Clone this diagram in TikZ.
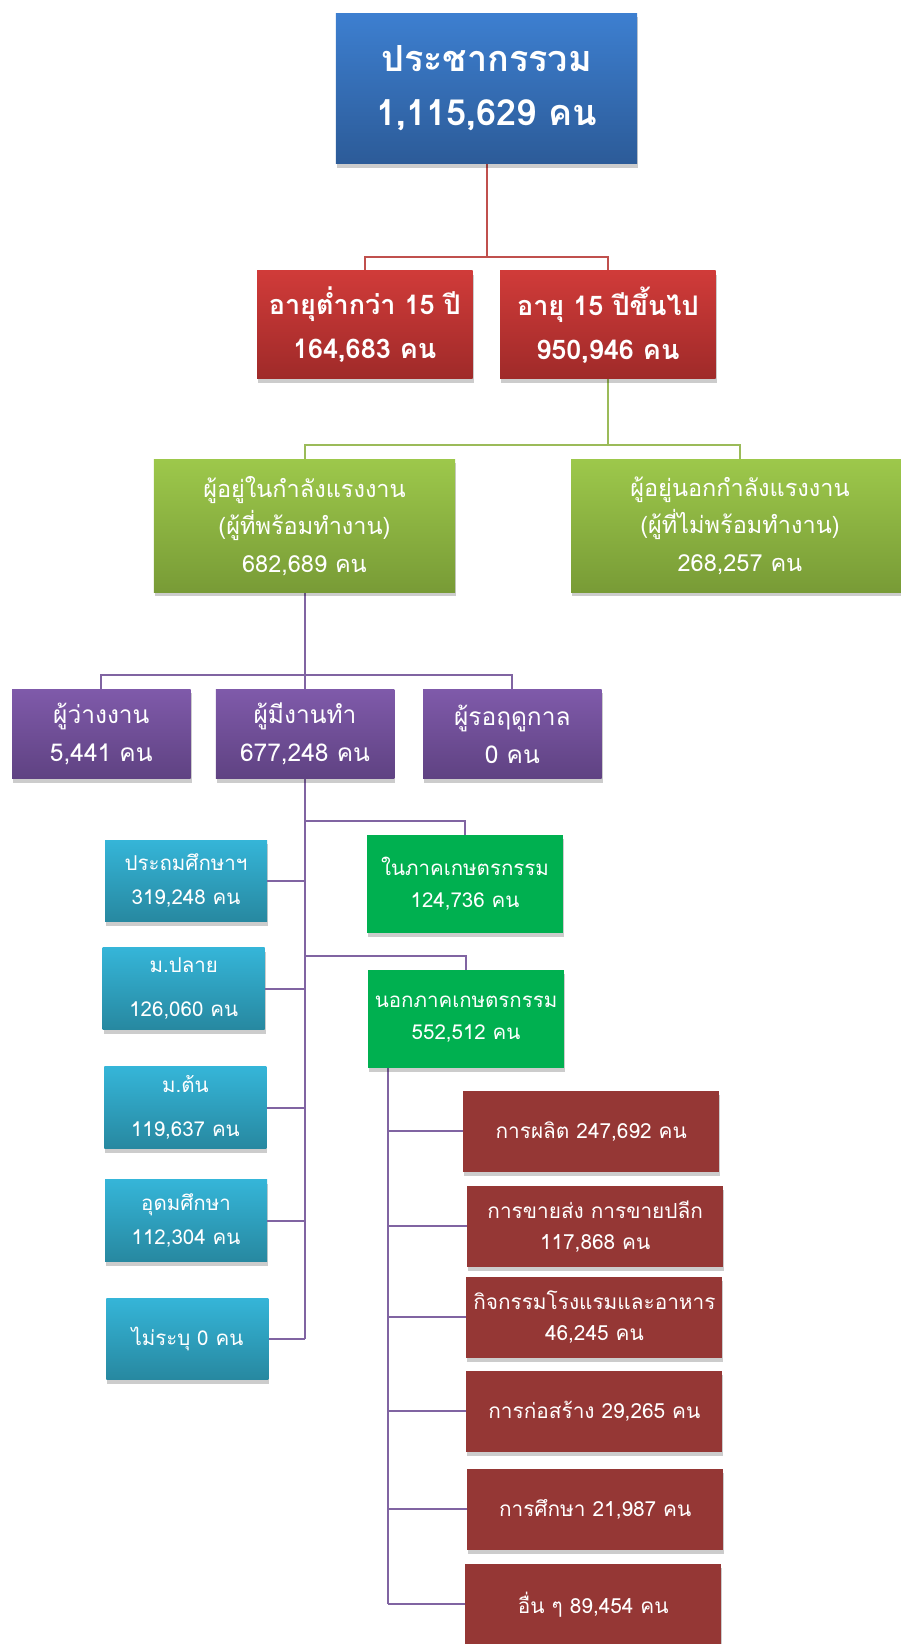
\documentclass[tikz,border=0pt]{standalone}
\usepackage{fontspec}
\newfontfamily\thaifont[Script=Thai]{Loma}
\usetikzlibrary{shadows}
\definecolor{blueT}{HTML}{3D7FD0}
\definecolor{blueB}{HTML}{2C5B98}
\definecolor{redT}{HTML}{D03B39}
\definecolor{redB}{HTML}{9F2A29}
\definecolor{grnT}{HTML}{9DC84B}
\definecolor{grnB}{HTML}{789B36}
\definecolor{purT}{HTML}{7F5AAA}
\definecolor{purB}{HTML}{5F4282}
\definecolor{tealT}{HTML}{35B5D8}
\definecolor{tealB}{HTML}{2788A0}
\definecolor{agri}{HTML}{00B050}
\definecolor{ind}{HTML}{953735}
\definecolor{lineR}{HTML}{C0504D}
\definecolor{lineG}{HTML}{9BBB59}
\definecolor{lineP}{HTML}{8064A2}
\begin{document}
\begin{tikzpicture}[x=1pt,y=-1pt,
  box/.style={rectangle, inner sep=0pt, align=center, text=white,
    drop shadow={shadow xshift=1pt, shadow yshift=-4pt, opacity=0.2, fill=black}},
  topbox/.style={box, top color=blueT, bottom color=blueB, minimum width=301.3pt, minimum height=150.4pt,
    font=\thaifont\bfseries\fontsize{36}{54}\selectfont},
  agebox/.style={box, top color=redT, bottom color=redB, minimum width=215.5pt, minimum height=108pt,
    font=\thaifont\bfseries\fontsize{27}{44}\selectfont},
  lfbox/.style={box, top color=grnT, bottom color=grnB, minimum width=301.4pt, minimum height=133.2pt,
    font=\thaifont\fontsize{23.5}{37.5}\selectfont},
  stbox/.style={box, top color=purT, bottom color=purB, minimum width=178.5pt, minimum height=89.5pt,
    font=\thaifont\fontsize{24.5}{38}\selectfont},
  edbox/.style={box, top color=tealT, bottom color=tealB, minimum width=162pt, minimum height=81.7pt,
    font=\thaifont\fontsize{20.5}{34}\selectfont},
  secbox/.style={box, fill=agri, minimum width=196.3pt, minimum height=97.5pt,
    font=\thaifont\fontsize{20.5}{32}\selectfont},
  indbox/.style={box, fill=ind, minimum width=256pt, minimum height=80.7pt,
    font=\thaifont\fontsize{20.8}{31}\selectfont},
  conR/.style={draw=lineR, line width=2pt},
  conG/.style={draw=lineG, line width=2pt},
  conP/.style={draw=lineP, line width=2pt}
]
\useasboundingbox (0,0) rectangle (900,1644);

% junction coordinates
\coordinate (j1) at (486.5,257);
\coordinate (j2) at (607.9,445.4);
\coordinate (j3) at (304.8,675.4);
\coordinate (jb1) at (304.8,820.8);
\coordinate (jb2) at (304.8,956.3);
\coordinate (k0) at (388,1067.6);

% connectors (drawn first, behind boxes)
\draw[conR] (486.5,163.8) -- (j1);
\draw[conR] (364.8,270.9) |- (j1) -| (607.9,270.9);
\draw[conG] (607.9,378.8) -- (j2);
\draw[conG] (304.5,459.2) |- (j2) -| (740,459.2);
\draw[conP] (304.8,592.4) -- (304.8,1339);
\draw[conP] (101.3,689.2) |- (j3) -| (512.3,689.2);
\draw[conP] (jb1) -| (465,835);
\draw[conP] (jb2) -| (466.1,970);
\draw[conP] (k0) -- (388,1604.4);

% nodes
\node[topbox] (top) at (486.5,88.6) {ประชากรรวม\\1,115,629 คน};
\node[agebox] (r1) at (364.8,324.9) {อายุต่ำกว่า 15 ปี\\164,683 คน};
\node[agebox] (r2) at (607.9,324.9) {อายุ 15 ปีขึ้นไป\\950,946 คน};
\node[lfbox] (g1) at (304.5,525.8) {ผู้อยู่ในกำลังแรงงาน\\(ผู้ที่พร้อมทำงาน)\\682,689 คน};
\node[lfbox, minimum width=338pt] (g2) at (740,525.8) {ผู้อยู่นอกกำลังแรงงาน\\(ผู้ที่ไม่พร้อมทำงาน)\\268,257 คน};

\node[stbox] (p1) at (101.3,734) {ผู้ว่างงาน\\5,441 คน};
\node[stbox] (p2) at (305,734) {ผู้มีงานทำ\\677,248 คน};
\node[stbox] (p3) at (512.3,734) {ผู้รอฤดูกาล\\0 คน};

\node[edbox] (t1) at (186,881) {ประถมศึกษาฯ\\319,248 คน};
\node[edbox] (t2) at (183.7,988.8) {ม.ปลาย\\[10pt]126,060 คน};
\node[edbox] (t3) at (185.4,1107.8) {ม.ต้น\\[10pt]119,637 คน};
\node[edbox] (t4) at (186,1220.8) {อุดมศึกษา\\112,304 คน};
\node[edbox] (t5) at (187.4,1338.9) {ไม่ระบุ 0 คน};

\node[secbox] (b1) at (465,883.8) {ในภาคเกษตรกรรม\\124,736 คน};
\node[secbox] (b2) at (466.1,1018.8) {นอกภาคเกษตรกรรม\\552,512 คน};

\node[indbox] (d1) at (591.2,1131.4) {การผลิต 247,692 คน};
\node[indbox] (d2) at (595.2,1226.3) {การขายส่ง การขายปลีก\\117,868 คน};
\node[indbox] (d3) at (594.4,1317.3) {กิจกรรมโรงแรมและอาหาร\\46,245 คน};
\node[indbox] (d4) at (594.4,1411.3) {การก่อสร้าง 29,265 คน};
\node[indbox] (d5) at (595.2,1509.3) {การศึกษา 21,987 คน};
\node[indbox] (d6) at (593.3,1604.4) {อื่น ๆ 89,454 คน};

% side branches from named nodes
\draw[conP] (t1.east) -- (t1.east -| p2.south);
\draw[conP] (t2.east) -- (t2.east -| p2.south);
\draw[conP] (t3.east) -- (t3.east -| p2.south);
\draw[conP] (t4.east) -- (t4.east -| p2.south);
\draw[conP] (t5.east) -- (t5.east -| p2.south);
\draw[conP] (d1.west) -- (d1.west -| k0);
\draw[conP] (d2.west) -- (d2.west -| k0);
\draw[conP] (d3.west) -- (d3.west -| k0);
\draw[conP] (d4.west) -- (d4.west -| k0);
\draw[conP] (d5.west) -- (d5.west -| k0);
\draw[conP] (d6.west) -- (d6.west -| k0);
\end{tikzpicture}
\end{document}
